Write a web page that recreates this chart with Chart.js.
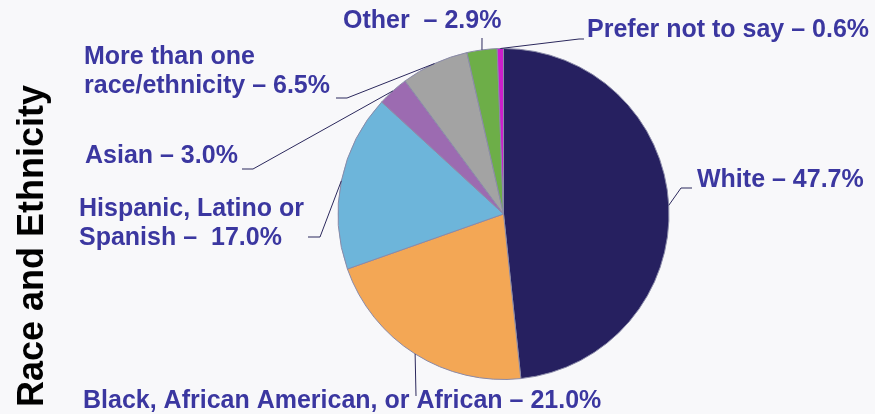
<!DOCTYPE html>
<html>
<head>
<meta charset="utf-8">
<script src="https://cdn.jsdelivr.net/npm/chart.js@4"></script>
<style>
  html, body { margin: 0; padding: 0; background: #f8f8fa; }
  canvas { display: block; }
</style>
</head>
<body>
<canvas id="chart" width="875" height="414"></canvas>
<script>
const categories = ["White", "Black, African American, or African", "Hispanic, Latino or Spanish",
  "Asian", "More than one race/ethnicity", "Other", "Prefer not to say"];
const values = [47.7, 21.0, 17.0, 3.0, 6.5, 2.9, 0.6];
const colors = ["#262060", "#f3a755", "#6db5da", "#9c6bb1", "#a3a3a3", "#6dae48", "#cc1ecc"];
const labelLines = [
  ["White – 47.7%"],
  ["Black, African American, or African – 21.0%"],
  ["Hispanic, Latino or", "Spanish –  17.0%"],
  ["Asian – 3.0%"],
  ["More than one", "race/ethnicity – 6.5%"],
  ["Other  – 2.9%"],
  ["Prefer not to say – 0.6%"]
];

// where each label sits: text x / first baseline, leader elbow and end
const labelPos = [
  { x: 697, y: 187, elbow: [681, 188], end: [692, 188] },
  { x: 83, y: 408, elbow: [416, 396], end: [416, 396] },
  { x: 79, y: 216, elbow: [320, 237], end: [308, 237] },
  { x: 85, y: 163, elbow: [253, 169], end: [242, 169] },
  { x: 84, y: 64, elbow: [347, 98], end: [336, 98] },
  { x: 343, y: 28, elbow: [482, 38], end: [482, 38] },
  { x: 587, y: 37, elbow: [579, 39], end: [584, 39] }
];

const labelsPlugin = {
  id: "pieLabels",
  afterDatasetsDraw(chart) {
    const c = chart.ctx;
    const arcs = chart.getDatasetMeta(0).data;
    c.save();
    c.strokeStyle = "#2b285c";
    c.lineWidth = 1;
    arcs.forEach((arc, i) => {
      const p = arc.getProps(["x", "y", "startAngle", "endAngle", "outerRadius"], true);
      const mid = (p.startAngle + p.endAngle) / 2;
      const sx = p.x + Math.cos(mid) * p.outerRadius;
      const sy = p.y + Math.sin(mid) * p.outerRadius;
      const pos = labelPos[i];
      c.beginPath();
      c.moveTo(sx, sy);
      c.lineTo(pos.elbow[0], pos.elbow[1]);
      c.lineTo(pos.end[0], pos.end[1]);
      c.stroke();
    });
    c.fillStyle = "#3b37a0";
    c.font = "bold 25px 'Liberation Sans', Arial, sans-serif";
    c.textAlign = "left";
    c.textBaseline = "alphabetic";
    labelLines.forEach((lines, i) => {
      lines.forEach((t, j) => c.fillText(t, labelPos[i].x, labelPos[i].y + j * 29));
    });
    // vertical title
    c.fillStyle = "#000";
    c.font = "bold 36px 'Liberation Sans', Arial, sans-serif";
    c.translate(43, 407);
    c.rotate(-Math.PI / 2);
    c.fillText("Race and Ethnicity", 0, 0);
    c.restore();
  }
};

new Chart(document.getElementById("chart"), {
  type: "pie",
  data: {
    labels: categories,
    datasets: [{
      data: values,
      backgroundColor: colors,
      borderColor: "#8a8aa8",
      borderWidth: 1
    }]
  },
  options: {
    responsive: false,
    animation: false,
    layout: { padding: { left: 337, right: 205, top: 48, bottom: 34 } },
    plugins: {
      legend: { display: false },
      tooltip: { enabled: false }
    }
  },
  plugins: [labelsPlugin]
});
</script>
</body>
</html>
